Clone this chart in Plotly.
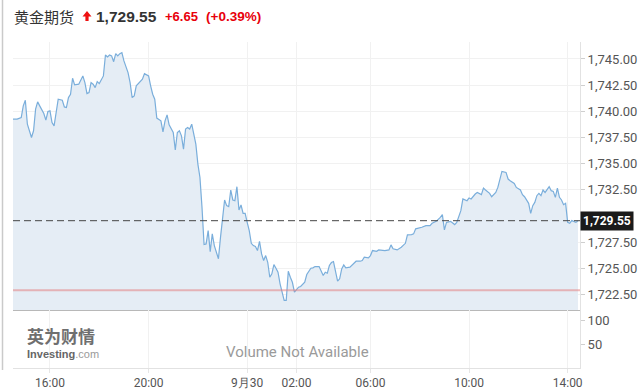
import plotly.graph_objects as go

# ---------------- data ----------------
times = [
    "2021-09-29 14:30", "2021-09-29 14:40", "2021-09-29 14:50", "2021-09-29 14:55", "2021-09-29 15:00",
    "2021-09-29 15:05", "2021-09-29 15:15", "2021-09-29 15:20", "2021-09-29 15:25", "2021-09-29 15:30",
    "2021-09-29 15:35", "2021-09-29 15:45", "2021-09-29 15:50", "2021-09-29 15:55", "2021-09-29 16:00",
    "2021-09-29 16:05", "2021-09-29 16:10", "2021-09-29 16:15", "2021-09-29 16:20", "2021-09-29 16:30",
    "2021-09-29 16:35", "2021-09-29 16:40", "2021-09-29 16:45", "2021-09-29 16:50", "2021-09-29 16:55",
    "2021-09-29 17:00", "2021-09-29 17:10", "2021-09-29 17:20", "2021-09-29 17:25", "2021-09-29 17:30",
    "2021-09-29 17:35", "2021-09-29 17:40", "2021-09-29 17:45", "2021-09-29 17:50", "2021-09-29 17:55",
    "2021-09-29 18:00", "2021-09-29 18:10", "2021-09-29 18:15", "2021-09-29 18:20", "2021-09-29 18:25",
    "2021-09-29 18:30", "2021-09-29 18:35", "2021-09-29 18:40", "2021-09-29 18:45", "2021-09-29 18:50",
    "2021-09-29 18:55", "2021-09-29 19:00", "2021-09-29 19:10", "2021-09-29 19:15", "2021-09-29 19:20",
    "2021-09-29 19:25", "2021-09-29 19:30", "2021-09-29 19:40", "2021-09-29 19:45", "2021-09-29 19:50",
    "2021-09-29 19:55", "2021-09-29 20:00", "2021-09-29 20:05", "2021-09-29 20:10", "2021-09-29 20:15",
    "2021-09-29 20:20", "2021-09-29 20:30", "2021-09-29 20:35", "2021-09-29 20:40", "2021-09-29 20:45",
    "2021-09-29 20:50", "2021-09-29 21:00", "2021-09-29 21:05", "2021-09-29 21:10", "2021-09-29 21:15",
    "2021-09-29 21:20", "2021-09-29 21:25", "2021-09-29 21:30", "2021-09-29 21:35", "2021-09-29 21:40",
    "2021-09-29 21:45", "2021-09-29 21:50", "2021-09-29 21:55", "2021-09-29 22:00", "2021-09-29 22:05",
    "2021-09-29 22:10", "2021-09-29 22:15", "2021-09-29 22:20", "2021-09-29 22:25", "2021-09-29 22:30",
    "2021-09-29 22:35", "2021-09-29 22:40", "2021-09-29 22:50", "2021-09-29 22:55", "2021-09-29 23:05",
    "2021-09-29 23:10", "2021-09-29 23:15", "2021-09-29 23:20", "2021-09-29 23:25", "2021-09-29 23:30",
    "2021-09-29 23:35", "2021-09-29 23:40", "2021-09-29 23:45", "2021-09-29 23:50", "2021-09-29 23:55",
    "2021-09-30 00:00", "2021-09-30 00:05", "2021-09-30 00:10", "2021-09-30 00:15", "2021-09-30 00:20",
    "2021-09-30 00:25", "2021-09-30 00:30", "2021-09-30 00:35", "2021-09-30 00:40", "2021-09-30 00:45",
    "2021-09-30 00:50", "2021-09-30 00:55", "2021-09-30 01:00", "2021-09-30 01:05", "2021-09-30 01:10",
    "2021-09-30 01:15", "2021-09-30 01:20", "2021-09-30 01:25", "2021-09-30 01:30", "2021-09-30 01:35",
    "2021-09-30 01:40", "2021-09-30 01:45", "2021-09-30 01:50", "2021-09-30 01:55", "2021-09-30 02:00",
    "2021-09-30 02:05", "2021-09-30 02:10", "2021-09-30 02:20", "2021-09-30 02:25", "2021-09-30 02:35",
    "2021-09-30 02:40", "2021-09-30 02:45", "2021-09-30 02:55", "2021-09-30 03:05", "2021-09-30 03:10",
    "2021-09-30 03:15", "2021-09-30 03:20", "2021-09-30 03:25", "2021-09-30 03:30", "2021-09-30 03:40",
    "2021-09-30 03:45", "2021-09-30 03:50", "2021-09-30 03:55", "2021-09-30 04:00", "2021-09-30 04:10",
    "2021-09-30 04:15", "2021-09-30 04:20", "2021-09-30 04:25", "2021-09-30 04:35", "2021-09-30 04:40",
    "2021-09-30 04:45", "2021-09-30 04:50", "2021-09-30 04:55",
    "2021-09-30 06:00", "2021-09-30 06:05", "2021-09-30 06:15", "2021-09-30 06:20", "2021-09-30 06:35",
    "2021-09-30 06:45", "2021-09-30 06:50", "2021-09-30 06:55", "2021-09-30 07:05", "2021-09-30 07:15",
    "2021-09-30 07:25", "2021-09-30 07:30", "2021-09-30 07:40", "2021-09-30 07:45", "2021-09-30 07:50",
    "2021-09-30 08:00", "2021-09-30 08:05", "2021-09-30 08:15", "2021-09-30 08:25", "2021-09-30 08:30",
    "2021-09-30 08:40", "2021-09-30 08:50", "2021-09-30 08:55", "2021-09-30 09:00", "2021-09-30 09:05",
    "2021-09-30 09:15", "2021-09-30 09:20", "2021-09-30 09:25", "2021-09-30 09:30", "2021-09-30 09:40",
    "2021-09-30 09:45", "2021-09-30 09:55", "2021-09-30 10:00", "2021-09-30 10:05", "2021-09-30 10:15",
    "2021-09-30 10:20", "2021-09-30 10:30", "2021-09-30 10:35", "2021-09-30 10:40", "2021-09-30 10:50",
    "2021-09-30 10:55", "2021-09-30 11:05", "2021-09-30 11:10", "2021-09-30 11:15", "2021-09-30 11:20",
    "2021-09-30 11:30", "2021-09-30 11:35", "2021-09-30 11:40", "2021-09-30 11:45", "2021-09-30 11:50",
    "2021-09-30 11:55", "2021-09-30 12:05", "2021-09-30 12:10", "2021-09-30 12:15", "2021-09-30 12:25",
    "2021-09-30 12:30", "2021-09-30 12:35", "2021-09-30 12:40", "2021-09-30 12:45", "2021-09-30 12:50",
    "2021-09-30 12:55", "2021-09-30 13:00", "2021-09-30 13:05", "2021-09-30 13:15", "2021-09-30 13:20",
    "2021-09-30 13:25", "2021-09-30 13:30", "2021-09-30 13:35", "2021-09-30 13:40", "2021-09-30 13:45",
    "2021-09-30 13:50", "2021-09-30 13:55", "2021-09-30 14:00", "2021-09-30 14:05", "2021-09-30 14:10",
    "2021-09-30 14:20", "2021-09-30 14:25",
]

prices = [
    1739.25, 1739.25, 1739.40, 1740.52, 1741.06,
    1738.77, 1737.50, 1738.14, 1740.20, 1740.90,
    1740.52, 1739.79, 1739.16, 1739.98, 1740.04,
    1738.93, 1738.61, 1740.04, 1741.16, 1741.06,
    1740.42, 1740.36, 1741.31, 1741.63, 1743.16,
    1742.52, 1742.59, 1743.38, 1742.74, 1741.69,
    1741.79, 1742.74, 1742.59, 1742.26, 1742.84,
    1742.65, 1743.38, 1745.38, 1745.19, 1745.38,
    1745.29, 1744.74, 1745.51, 1745.29, 1745.51,
    1745.60, 1744.81, 1743.69, 1742.74, 1741.31,
    1741.47, 1742.43, 1742.90, 1743.06, 1743.60,
    1743.47, 1743.38, 1742.43, 1741.63, 1741.16,
    1739.35, 1739.09, 1738.04, 1739.09, 1739.66,
    1738.71, 1737.97, 1736.30, 1737.97, 1738.14,
    1737.66, 1736.39, 1738.30, 1738.45, 1738.30,
    1738.77, 1737.97, 1736.87, 1734.96, 1733.68,
    1730.82, 1727.27, 1727.33, 1728.60, 1726.60,
    1728.29, 1727.17, 1725.91, 1727.96, 1731.53,
    1730.99, 1730.89, 1732.48, 1731.53, 1731.46,
    1732.80, 1730.58, 1731.05, 1730.25, 1730.25,
    1729.39, 1728.60, 1727.39, 1727.17, 1727.08,
    1726.70, 1727.58, 1726.38, 1725.74, 1726.22,
    1725.58, 1724.15, 1724.48, 1725.36, 1725.01,
    1724.63, 1723.52, 1722.63, 1721.93, 1721.93,
    1724.72, 1724.15, 1723.67, 1722.72, 1722.98,
    1723.20, 1723.27, 1723.67, 1724.41, 1725.01,
    1725.05, 1725.17, 1725.17, 1724.31, 1724.63,
    1724.53, 1725.27, 1725.55, 1725.65, 1723.77,
    1724.00, 1724.95, 1725.33, 1725.05, 1725.11,
    1725.27, 1725.49, 1725.68, 1725.68, 1725.74,
    1726.06, 1726.06, 1726.00,
    1726.22, 1726.70, 1726.63, 1726.76, 1726.70,
    1726.76, 1727.24, 1726.86, 1726.76, 1727.01,
    1727.39, 1728.19, 1728.22, 1728.29, 1728.77,
    1728.86, 1728.92, 1729.08, 1729.08, 1729.30,
    1729.49, 1729.87, 1730.13, 1728.67, 1729.39,
    1729.49, 1729.30, 1729.18, 1729.39, 1730.51,
    1731.63, 1731.46, 1731.72, 1731.63, 1732.10,
    1732.25, 1732.04, 1732.67, 1732.48, 1732.16,
    1731.84, 1732.25, 1732.73, 1733.53, 1734.26,
    1734.16, 1733.53, 1733.37, 1733.21, 1733.11,
    1732.73, 1732.48, 1732.04, 1731.84, 1731.21,
    1730.25, 1730.99, 1731.30, 1731.94, 1732.16,
    1731.94, 1732.48, 1732.25, 1732.80, 1732.42,
    1732.35, 1731.78, 1732.67, 1731.78, 1731.53,
    1731.08, 1731.21, 1729.39, 1729.30, 1729.56,
    1729.39, 1729.55,
]

last_price = 1729.55
prev_close = 1722.90
change = 6.65
change_pct = 0.39

price_ticks = [1722.5, 1725.0, 1727.5, 1732.5, 1735.0, 1737.5, 1740.0, 1742.5, 1745.0]
volume_ticks = [50, 100]
x_tickvals = ["2021-09-29 16:00", "2021-09-29 20:00", "2021-09-30 00:00", "2021-09-30 02:00",
              "2021-09-30 06:00", "2021-09-30 10:00", "2021-09-30 14:00"]
x_ticktext = ["16:00", "20:00", "9月30", "02:00", "06:00", "10:00", "14:00"]
x_range = ["2021-09-29 14:30", "2021-09-30 14:30"]

# ---------------- layout helpers ----------------
W, H = 638, 389
ML, MR, MT, MB = 13, 58, 42, 21
PW, PH = W - ML - MR, H - MT - MB
VOL_FRAC = (368 - 310) / PH


def px2x(px):
    return (px - ML) / PW


def px2y(py):
    return (H - MB - py) / PH


X_FONT = dict(family="Roboto, Arial, sans-serif", size=12, color="#555555")
Y_FONT = dict(family="Roboto, Arial, sans-serif", size=13, color="#555555")
GRID = "#f1f1f1"

fig = go.Figure()
fig.add_trace(go.Scatter(
    x=times, y=prices, mode="lines",
    line=dict(color="#7aaedb", width=1.2),
    fill="tozeroy", fillcolor="#e5edf5",
    xaxis="x", yaxis="y", hoverinfo="skip", showlegend=False,
))
# empty volume panel (no volume data available)
fig.add_trace(go.Scatter(
    x=times, y=[None] * len(times), mode="lines",
    xaxis="x2", yaxis="y2", hoverinfo="skip", showlegend=False,
))

rb = [dict(bounds=[5, 6], pattern="hour")]

fig.update_layout(
    width=W, height=H,
    margin=dict(l=ML, r=MR, t=MT, b=MB, autoexpand=False),
    paper_bgcolor="white", plot_bgcolor="white",
    showlegend=False,
    xaxis=dict(
        type="date", range=x_range, rangebreaks=rb,
        domain=[0, 1], anchor="y",
        tickvals=x_tickvals, ticktext=x_ticktext, showticklabels=False,
        showgrid=True, gridcolor=GRID, gridwidth=1,
        showline=True, linecolor="#b8b8b8", linewidth=1,
        ticks="", zeroline=False, fixedrange=True, automargin=False,
    ),
    yaxis=dict(
        domain=[VOL_FRAC, 1], anchor="x", side="right",
        range=[1721.02, 1746.62],
        tickvals=price_ticks, tickformat=",.2f",
        showgrid=True, gridcolor=GRID, gridwidth=1,
        showline=True, linecolor="#e2e2e2", linewidth=1,
        ticks="outside", ticklen=4, tickcolor="#cfcfcf",
        tickfont=Y_FONT, zeroline=False, fixedrange=True, automargin=False,
    ),
    xaxis2=dict(
        type="date", range=x_range, rangebreaks=rb,
        domain=[0, 1], anchor="y2",
        tickvals=x_tickvals, ticktext=x_ticktext,
        showgrid=True, gridcolor=GRID, gridwidth=1,
        showline=True, linecolor="#e2e2e2", linewidth=1,
        ticks="outside", ticklen=4, tickcolor="#e6e6e6",
        tickfont=X_FONT, zeroline=False, fixedrange=True, automargin=False,
    ),
    yaxis2=dict(
        domain=[0, VOL_FRAC], anchor="x2", side="right",
        range=[0, 121],
        tickvals=volume_ticks,
        showgrid=False,
        showline=True, linecolor="#e2e2e2", linewidth=1,
        ticks="outside", ticklen=4, tickcolor="#cfcfcf",
        tickfont=Y_FONT, zeroline=False, fixedrange=True, automargin=False,
    ),
)

# previous close (red) and last price (dashed)
fig.add_shape(type="line", xref="x domain", yref="y", x0=0, x1=1, y0=prev_close, y1=prev_close,
              line=dict(color="rgba(228,130,130,0.55)", width=2), layer="above")
fig.add_shape(type="line", xref="x domain", yref="y", x0=0, x1=1, y0=last_price, y1=last_price,
              line=dict(color="#444444", width=1, dash="7px,4px"), layer="above")

# page left border
fig.add_shape(type="line", xref="paper", yref="paper",
              x0=px2x(2.5), x1=px2x(2.5), y0=px2y(0), y1=px2y(370),
              line=dict(color="#cacaca", width=1.5))

# up arrow icon in the header
fig.add_shape(type="path", xref="paper", yref="paper",
              xsizemode="pixel", ysizemode="pixel",
              xanchor=px2x(87), yanchor=px2y(16),
              path="M -4.5 -0.5 L 0 5 L 4.5 -0.5 L 1.6 -0.5 L 1.6 -5 L -1.6 -5 L -1.6 -0.5 Z",
              fillcolor="#ee1111", line=dict(width=0))

ann = []
# last price label on the axis
ann.append(dict(xref="paper", yref="y", x=1, y=last_price, xanchor="left", yanchor="middle",
                text=f"<b>{last_price:,.2f}</b>", showarrow=False,
                font=dict(family="Roboto, Arial, sans-serif", size=12, color="white"),
                bgcolor="#1a1a1a", borderpad=2))
# header
ann.append(dict(xref="paper", yref="paper", x=px2x(12), y=px2y(16), xanchor="left", yanchor="middle",
                text="黄金期货", showarrow=False,
                font=dict(family="Noto Sans CJK SC", size=15, color="#333333")))
ann.append(dict(xref="paper", yref="paper", x=px2x(94), y=px2y(16.5), xanchor="left", yanchor="middle",
                text=f"<b>{last_price:,.2f}</b>", showarrow=False,
                font=dict(family="Liberation Sans, Arial", size=15.5, color="#333333")))
ann.append(dict(xref="paper", yref="paper", x=px2x(163), y=px2y(16.5), xanchor="left", yanchor="middle",
                text=f"<b>+{change:.2f}</b>", showarrow=False,
                font=dict(family="Liberation Sans, Arial", size=13, color="#e8000b")))
ann.append(dict(xref="paper", yref="paper", x=px2x(204), y=px2y(16.5), xanchor="left", yanchor="middle",
                text=f"<b>(+{change_pct:.2f}%)</b>", showarrow=False,
                font=dict(family="Liberation Sans, Arial", size=13.5, color="#e8000b")))
# watermark logo
ann.append(dict(xref="paper", yref="paper", x=px2x(26), y=px2y(335), xanchor="left", yanchor="middle",
                text="<b>英为财情</b>", showarrow=False, borderpad=0,
                font=dict(family="Noto Sans CJK SC", size=17, color="#6f6f6f")))
ann.append(dict(xref="paper", yref="paper", x=px2x(26), y=px2y(354), xanchor="left", yanchor="middle",
                text="<b>Investing</b><span style='color:#9a9a9a'>.com</span>", showarrow=False,
                borderpad=0,
                font=dict(family="Liberation Sans, Arial", size=11, color="#666666")))
# volume note
ann.append(dict(xref="paper", yref="paper", x=px2x(297), y=px2y(352), xanchor="center", yanchor="middle",
                text="Volume Not Available", showarrow=False,
                font=dict(family="Roboto, Arial, sans-serif", size=15, color="#9a9a9a")))

fig.update_layout(annotations=ann)

fig.write_html("out.html", config={"displayModeBar": False})
